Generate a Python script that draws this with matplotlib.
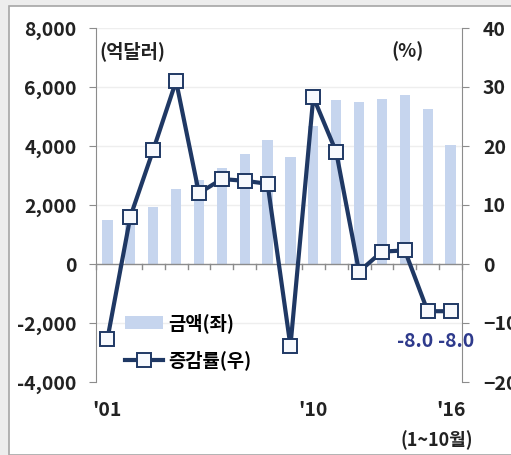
import numpy as np
import matplotlib
matplotlib.use('Agg')
import matplotlib.pyplot as plt
from matplotlib.patches import Rectangle, Patch
from matplotlib.lines import Line2D

plt.rcParams['font.family'] = ['Noto Sans CJK KR', 'DejaVu Sans']
plt.rcParams['font.weight'] = 'bold'

# Exports by year: amount (100 million USD) and growth rate (%)
years = ["'01", "'02", "'03", "'04", "'05", "'06", "'07", "'08",
         "'09", "'10", "'11", "'12", "'13", "'14", "'15", "'16"]
amount = [1504, 1625, 1938, 2538, 2844, 3255, 3715, 4220,
          3635, 4664, 5552, 5479, 5596, 5727, 5268, 4030]
growth = [-12.7, 8.0, 19.3, 31.0, 12.0, 14.4, 14.1, 13.6,
          -13.9, 28.3, 19.0, -1.3, 2.1, 2.3, -8.0, -8.0]
shown_years = {"'01": "'01", "'10": "'10", "'16": "'16"}

bar_color = '#c6d5ee'
line_color = '#1f3864'
label_color = '#2e3a8c'
axis_gray = '#8c8c8c'
text_color = '#222222'

fig = plt.figure(figsize=(5.11, 4.55), dpi=100)
fig.patch.set_facecolor('#ededed')
fig.patches.append(Rectangle((9 / 511, 0), 1, 1 - 6 / 455, transform=fig.transFigure,
                             facecolor='white', edgecolor='#a6a6a6', linewidth=1.2,
                             zorder=-5))

ax = fig.add_axes([96 / 511, 1 - 382 / 455, 366 / 511, 354 / 455])
ax.set_facecolor('none')
x = np.arange(len(years))

ax.bar(x, amount, width=0.45, color=bar_color, zorder=2)
ax.set_ylim(-4000, 8000)
ax.set_xlim(-0.5, len(years) - 0.5)
ax.set_yticks(np.arange(-4000, 8001, 2000))
ax.yaxis.set_major_formatter(matplotlib.ticker.FuncFormatter(lambda v, p: f'{int(v):,}'))
for v in np.arange(-2000, 8001, 2000):
    if v != 0:
        ax.axhline(v, color='#eeeeee', linewidth=1.0, zorder=1)
ax.axhline(0, color=axis_gray, linewidth=1.0, zorder=3)

# category boundary ticks hanging from the zero line
ax.spines['bottom'].set_visible(False)
ax.spines['top'].set_visible(False)
ax.spines['right'].set_visible(False)
ax.spines['left'].set_color(axis_gray)
ax.set_xticks([])
for b in np.arange(-0.5, len(years), 1.0):
    ax.plot([b, b], [0, -180], color=axis_gray, linewidth=1.0, zorder=3, clip_on=False)

ax.tick_params(axis='y', colors=axis_gray, length=5, pad=9, labelsize=14,
               labelcolor=text_color)

tr = matplotlib.transforms.blended_transform_factory(ax.transData, ax.transAxes)
for i, yr in enumerate(years):
    if yr in shown_years:
        ax.text(i, -0.08, shown_years[yr], transform=tr, ha='center', va='center',
                fontsize=14, color=text_color)
ax.text(len(years) - 1.6, -0.165, '(1~10월)', transform=tr, ha='center', va='center',
        fontsize=13, color=text_color)

ax.text(0.01, 0.935, '(억달러)', transform=ax.transAxes, ha='left', va='center',
        fontsize=13.5, color=text_color)

ax2 = ax.twinx()
ax2.plot(x, growth, color=line_color, linewidth=3.0, marker='s', markersize=10.5,
         markerfacecolor='#f7f9fd', markeredgecolor=line_color, markeredgewidth=1.4,
         zorder=5)
ax2.set_ylim(-20, 40)
ax2.set_yticks(np.arange(-20, 41, 10))
for s in ['top', 'left', 'bottom']:
    ax2.spines[s].set_visible(False)
ax2.spines['right'].set_color(axis_gray)
ax2.tick_params(axis='y', colors=axis_gray, length=5, pad=10, labelsize=14,
                labelcolor=text_color)
ax2.text(0.85, 0.935, '(%)', transform=ax2.transAxes, ha='center', va='center',
         fontsize=13.5, color=text_color)

# value labels for the last two years
for i, dx in [(len(years) - 2, -9), (len(years) - 1, 4)]:
    ax2.annotate(f'{growth[i]:.1f}', (x[i], growth[i]), xytext=(dx, -22),
                 textcoords='offset points', ha='center', va='center',
                 fontsize=14, color=label_color)

handles = [Patch(facecolor=bar_color, edgecolor='none'),
           Line2D([], [], color=line_color, linewidth=3.0, marker='s', markersize=10.5,
                  markerfacecolor='#f7f9fd', markeredgecolor=line_color,
                  markeredgewidth=1.4)]
ax2.legend(handles, ['금액(좌)', '증감률(우)'], loc='upper left',
           bbox_to_anchor=(0.08, 0.195), frameon=False, fontsize=13.5,
           handlelength=2.0, handletextpad=0.3, labelspacing=0.95,
           borderaxespad=0, borderpad=0)

fig.savefig('out.png', dpi=100)
